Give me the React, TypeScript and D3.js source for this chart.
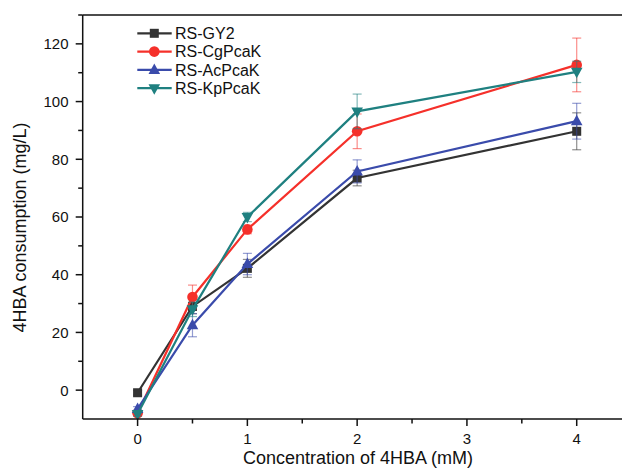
import React from "react";
import * as d3 from "d3";

const concentrations = [0, 0.5, 1, 2, 4];
const seriesNames = ["RS-GY2", "RS-CgPcaK", "RS-AcPcaK", "RS-KpPcaK"];
const gy2 = [-0.9, 29, 42.2, 73.5, 89.7];
const gy2Err = [0.8, 2.5, 3.1, 2.7, 6.4];
const cg = [-8, 32.3, 55.7, 89.7, 112.7];
const cgErr = [0.8, 4.1, 1.5, 6, 9.3];
const ac = [-6.5, 22.5, 43.7, 75.8, 93.2];
const acErr = [0.8, 4, 3.7, 4, 6.2];
const kp = [-8.3, 28, 60, 96.6, 110.3];
const kpErr = [0.8, 2.5, 1.6, 6, 3.7];
const xTicks = [0, 1, 2, 3, 4];
const yTicks = [0, 20, 40, 60, 80, 100, 120];

const colors = ["#333333", "#f5302a", "#3a4bab", "#1f8080"];
const shapes = ["square", "circle", "triangle", "triangleDown"];

const W = 622, H = 469;
const x = d3.scaleLinear().domain([-0.5, 4.5]).range([82.7, 631.6]);
const y = d3.scaleLinear().domain([-10, 130]).range([419, 15]);

function Marker({ shape, cx, cy, color }: { shape: string; cx: number; cy: number; color: string }) {
  if (shape === "square") return <rect x={cx - 4.5} y={cy - 4.5} width={9} height={9} fill={color} />;
  if (shape === "circle") return <circle cx={cx} cy={cy} r={5.3} fill={color} />;
  if (shape === "triangle")
    return <path d={`M${cx},${cy - 6.5}L${cx + 5.8},${cy + 4}L${cx - 5.8},${cy + 4}Z`} fill={color} />;
  return <path d={`M${cx},${cy + 6.5}L${cx + 5.8},${cy - 4}L${cx - 5.8},${cy - 4}Z`} fill={color} />;
}

export default function App() {
  const data = [
    { v: gy2, e: gy2Err },
    { v: cg, e: cgErr },
    { v: ac, e: acErr },
    { v: kp, e: kpErr },
  ];
  const line = d3
    .line<number>()
    .x((_, i) => x(concentrations[i]))
    .y((d) => y(d));
  const minorX = d3.range(-0.5, 4.6, 0.5).filter((t) => !xTicks.includes(t) && t > -0.5);
  const minorY = d3.range(-10, 131, 10).filter((t) => !yTicks.includes(t) && t > -10);
  const font = "'Liberation Sans', Arial, sans-serif";
  return (
    <svg width={W} height={H} style={{ position: "absolute", left: 0, top: 0 }} fontFamily={font}>
      <rect width={W} height={H} fill="#fff" />
      {data.map((s, si) => (
        <g key={si}>
          {s.v.map((v, i) => {
            const cx = x(concentrations[i]);
            return (
              <g key={i} stroke={colors[si]} strokeOpacity={0.55} strokeWidth={1.2}>
                <line x1={cx} x2={cx} y1={y(v - s.e[i])} y2={y(v + s.e[i])} />
                <line x1={cx - 4.5} x2={cx + 4.5} y1={y(v - s.e[i])} y2={y(v - s.e[i])} />
                <line x1={cx - 4.5} x2={cx + 4.5} y1={y(v + s.e[i])} y2={y(v + s.e[i])} />
              </g>
            );
          })}
          <path d={line(s.v) || ""} fill="none" stroke={colors[si]} strokeWidth={2.2} />
          {s.v.map((v, i) => (
            <Marker key={i} shape={shapes[si]} cx={x(concentrations[i])} cy={y(v)} color={colors[si]} />
          ))}
        </g>
      ))}
      <g stroke="#111" strokeWidth={1.5} fill="none">
        <line x1={82.7} x2={W} y1={15} y2={15} />
        <line x1={82.7} x2={82.7} y1={15} y2={419} />
        <line x1={82.7} x2={W} y1={419} y2={419} />
      </g>
      <g stroke="#111" strokeWidth={1.5}>
        {xTicks.map((t) => (
          <line key={t} x1={x(t)} x2={x(t)} y1={419} y2={426} />
        ))}
        {minorX.map((t) => (
          <line key={"m" + t} x1={x(t)} x2={x(t)} y1={419} y2={423.5} />
        ))}
        {yTicks.map((t) => (
          <line key={t} x1={82.7} x2={75.7} y1={y(t)} y2={y(t)} />
        ))}
        {minorY.map((t) => (
          <line key={"m" + t} x1={82.7} x2={78.2} y1={y(t)} y2={y(t)} />
        ))}
      </g>
      <g fontSize={15} fill="#111">
        {xTicks.map((t) => (
          <text key={t} x={x(t)} y={444} textAnchor="middle">
            {t}
          </text>
        ))}
        {yTicks.map((t) => (
          <text key={t} x={68.5} y={y(t) + 5.4} textAnchor="end">
            {t}
          </text>
        ))}
      </g>
      <text x={358} y={463.5} textAnchor="middle" fontSize={18} fill="#111">
        Concentration of 4HBA (mM)
      </text>
      <text transform={`translate(26,227.5) rotate(-90)`} textAnchor="middle" fontSize={18} fill="#111">
        4HBA consumption (mg/L)
      </text>
      {seriesNames.map((n, i) => {
        const ly = 33.3 + i * 18.3;
        return (
          <g key={n}>
            <line x1={137.3} x2={171.7} y1={ly} y2={ly} stroke={colors[i]} strokeWidth={2.2} />
            <Marker shape={shapes[i]} cx={154.3} cy={ly} color={colors[i]} />
            <text x={175} y={ly + 5.8} fontSize={16} fill="#111">
              {n}
            </text>
          </g>
        );
      })}
    </svg>
  );
}
